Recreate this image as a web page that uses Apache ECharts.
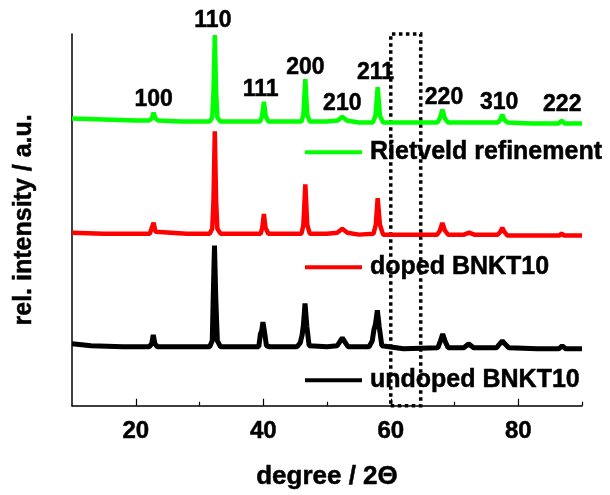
<!DOCTYPE html>
<html><head><meta charset="utf-8">
<script src="https://cdn.jsdelivr.net/npm/echarts@6/dist/echarts.min.js"></script>
<style>html,body{margin:0;padding:0;background:#fff}#c{width:610px;height:495px}</style>
</head><body><div id="c"></div>
<script>
// 2θ (degree) vs. relative intensity (a.u., patterns stacked with offsets)
const rietveld = [[10,292],[15,291],[20,290],[22.1,290],[22.5,292],[22.8,298],[23.1,292],[23.5,290],[27,289],[31.6,289],[32.0,293],[32.2,320],[32.4,377],[32.6,320],[32.8,293],[33.3,289],[37,289],[39.5,289],[39.8,294],[40.1,309],[40.4,294],[40.8,289],[44,289],[46.0,289],[46.3,296],[46.6,332],[46.9,296],[47.3,289],[50,289],[51.7,290],[52.4,294],[53.1,290],[55,288],[57.2,288],[57.6,295],[57.95,324],[58.3,295],[58.8,288],[62,288],[67.3,288],[67.7,292],[68.1,301],[68.5,292],[69,288],[72,288],[76.8,288],[77.2,291],[77.5,296],[77.8,291],[78.3,288],[82,287],[86.3,287],[86.8,290],[87.3,287],[90,287]];
const doped = [[10,176],[15,175],[20,175],[22.2,175],[22.5,177],[22.8,186],[23.1,177],[23.4,175],[28,175],[31.6,175],[32.0,180],[32.2,210],[32.4,279],[32.6,210],[32.8,180],[33.3,175],[37,175],[39.6,175],[39.85,181],[40.1,195],[40.35,181],[40.8,175],[44,175],[46.0,175],[46.3,184],[46.6,225],[46.9,184],[47.3,175],[50,175],[51.6,176],[52.4,180],[53.2,176],[55,174],[57.3,175],[57.65,184],[57.95,211],[58.3,184],[58.8,174],[62,174],[67.3,174],[67.7,178],[68.1,186],[68.5,178],[69,174],[71.5,174],[72.3,176],[73.1,174],[76.8,174],[77.2,177],[77.5,181],[77.8,177],[78.3,173],[83,173],[86.4,173],[86.8,175],[87.2,173],[90,173]];
const undoped = [[10,63],[13,61],[18,60],[22.1,60],[22.5,63],[22.75,72],[23.0,63],[23.4,60],[28,60],[31.6,60],[32.0,66],[32.15,110],[32.35,163],[32.55,110],[32.8,66],[33.3,60],[37,60],[39.3,60],[39.55,73],[39.75,76],[39.95,85],[40.2,75],[40.5,61],[41,60],[45.3,60],[45.8,64],[46.1,72],[46.3,82],[46.55,104],[46.85,80],[47.2,61],[50,60],[51.6,61],[52.0,65],[52.4,69],[52.8,65],[53.3,60],[56.6,60],[57.1,66],[57.35,77],[57.6,83],[57.9,97],[58.2,80],[58.6,61],[62,58],[67.4,59],[67.8,66],[68.15,73],[68.5,66],[69,59],[71.5,59],[72.2,63],[73,59],[76.6,59],[77.1,63],[77.5,66],[77.9,63],[78.5,59],[83,58],[86.4,58],[86.9,61],[87.4,58],[90,58]];
// Miller index labels: [text, 2θ, height]
const peakLabels = [['100',22.8,311],['110',32.1,392],['111',39.6,321],['200',46.6,344],['210',52.4,307],['211',57.6,339],['220',68.35,313],['310',77.0,308],['222',86.9,306]];
const majorTicks = [20,40,60,80];
const minorTicks = [30,50,70,90];
const boxRange = [60,64.7];
const names = ['Rietveld refinement','doped BNKT10','undoped BNKT10'];
const colors = ['#00ff00','#ff0000','#000000'];

const FONT = 'Liberation Sans, Arial, sans-serif';
const heavy = {color:'#000',fontWeight:'bold',fontFamily:FONT,textBorderColor:'#000',textBorderWidth:0.5};
const chart = echarts.init(document.getElementById('c'), null, {renderer:'canvas'});
const legendCenters = [152, 267, 380];
const option = {
  animation:false,
  backgroundColor:'#fff',
  grid:{left:72,right:28,top:34,bottom:83},
  legend: names.map((n,i)=>({
    data:[n], left:305, top:legendCenters[i]-12.5, padding:0, icon:'rect',
    itemWidth:57, itemHeight:4, selectedMode:false,
    textStyle:Object.assign({fontSize:25,padding:[0,0,0,3]},heavy)
  })),
  xAxis:[{
    type:'value', min:10, max:90,
    name:'degree / 2\u0398', nameLocation:'middle', nameGap:58,
    nameTextStyle:Object.assign({fontSize:26},heavy),
    axisLine:{lineStyle:{color:'#000',width:1.5}},
    axisTick:{inside:true,length:7,customValues:majorTicks,lineStyle:{color:'#000',width:1.2}},
    axisLabel:Object.assign({customValues:majorTicks,margin:14,fontSize:24},heavy),
    splitLine:{show:false}
  },{
    type:'value', min:10, max:90, position:'bottom', gridIndex:0,
    axisLine:{show:false},
    axisTick:{inside:true,length:4,customValues:minorTicks,lineStyle:{color:'#000',width:1.2}},
    axisLabel:{show:false}, splitLine:{show:false}
  }],
  yAxis:{
    type:'value', min:0, max:378,
    name:'rel. intensity / a.u.', nameLocation:'middle', nameGap:35,
    nameTextStyle:Object.assign({fontSize:25},heavy),
    axisLine:{show:true,lineStyle:{color:'#000',width:1.5}},
    axisTick:{show:false}, axisLabel:{show:false}, splitLine:{show:false}
  },
  series:[
    {name:names[2],type:'line',data:undoped,symbol:'none',lineStyle:{color:colors[2],width:5},itemStyle:{color:colors[2]},z:2},
    {name:names[1],type:'line',data:doped,symbol:'none',lineStyle:{color:colors[1],width:4.5},itemStyle:{color:colors[1]},z:2},
    {name:names[0],type:'line',data:rietveld,symbol:'none',lineStyle:{color:colors[0],width:4.5},itemStyle:{color:colors[0]},z:2,
      markArea:{silent:true,itemStyle:{color:'rgba(0,0,0,0)',borderColor:'#000',borderWidth:3.5,borderType:[3.5,3.5]},
        data:[[{xAxis:boxRange[0]},{xAxis:boxRange[1]}]]}},
    {type:'scatter',data:peakLabels.map(d=>[d[1],d[2],d[0]]),symbolSize:0,clip:false,z:5,
      itemStyle:{color:'#000',opacity:1},silent:true,
      label:Object.assign({show:true,position:'inside',opacity:1,formatter:p=>p.data[2],fontSize:23},heavy)}
  ]
};
chart.setOption(option);
</script></body></html>
